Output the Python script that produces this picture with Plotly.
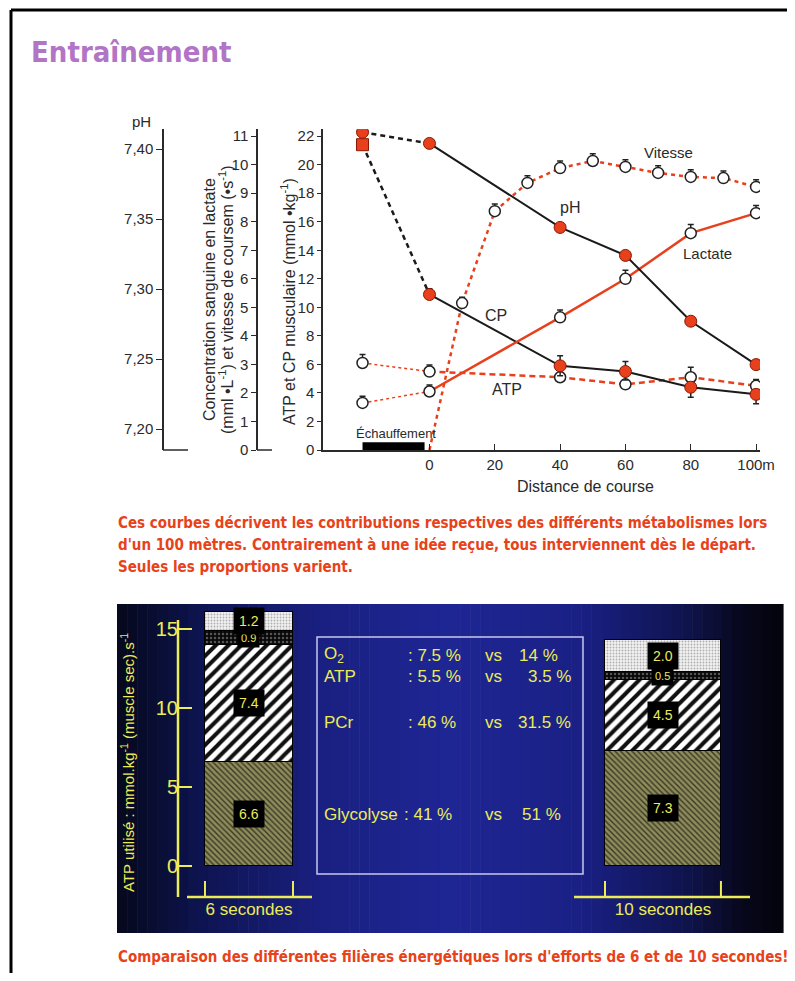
import plotly.graph_objects as go

# The page body adds an 8px margin on every side: size the figure so the page fits the window exactly
OFF = 8
W, H = 795 - 2 * OFF, 981 - 2 * OFF
def px(x): return (x - OFF) / W
def py(y): return 1 - (y - OFF) / H

# ---------------- Top chart data ----------------
dist = [-20.5, 0, 40, 60, 80, 100]
ph_vals = [7.412, 7.404, 7.344, 7.324, 7.277, 7.246]
ph_err = [0.005, 0, 0, 0, 0, 0]
cp_vals = [21.4, 10.9, 5.9, 5.5, 4.4, 3.9]
cp_err_up = [0, 0.4, 0.7, 0.7, 0.3, 0]
cp_err_dn = [0, 0, 0.7, 0.6, 0.7, 0.65]
atp_vals = [6.1, 5.5, 5.1, 4.6, 5.1, 4.5]
atp_err = [0.6, 0.45, 0.3, 0, 0.7, 0.45]
lac_vals = [1.65, 2.05, 4.65, 6.0, 7.6, 8.3]
lac_err = [0.23, 0.23, 0.26, 0.3, 0.3, 0.27]
speed_dist = [0, 10, 20, 30, 40, 50, 60, 70, 80, 90, 100]
speed_vals = [0, 5.15, 8.37, 9.36, 9.88, 10.13, 9.92, 9.71, 9.57, 9.53, 9.22]
speed_err = [0, 0.2, 0.25, 0.25, 0.25, 0.25, 0.25, 0.25, 0.25, 0.25, 0.25]
warmup = [-20.5, -1.5]

x_ticks = [0, 20, 40, 60, 80, 100]
x_ticktext = ["0", "20", "40", "60", "80", "100m"]
atp_ticks = list(range(0, 23, 2))
lac_ticks = list(range(0, 12))
ph_ticks = [7.20, 7.25, 7.30, 7.35, 7.40]
ph_ticktext = ["7,20", "7,25", "7,30", "7,35", "7,40"]

# ---------------- Bottom chart data ----------------
durations = ["6 secondes", "10 secondes"]
dur_pos = [0, 1]
bar_widths = [0.2126, 0.28]
glyco = [6.6, 7.3]
pcr = [7.4, 4.5]
atp_used = [0.9, 0.5]
o2 = [1.2, 2.0]
bottom_ticks = [0, 5, 10, 15]

row_labels = ["O<sub>2</sub>", "ATP", "PCr", "Glycolyse"]
pct_6s = ["7.5 %", "5.5 %", "46 %", "41 %"]
pct_10s = ["14 %", "3.5 %", "31.5 %", "51 %"]

RED = "#e8401c"
DARKRED = "#8a1800"
INK = "#2a2a2a"
YEL = "#ecec58"
TFONT = "Liberation Sans"

fig = go.Figure()

# ---- top chart traces ----
fig.add_trace(go.Scatter(x=dist[:2], y=atp_vals[:2], mode="lines", yaxis="y",
                         line=dict(color=RED, width=1.5, dash="dot"), showlegend=False))
fig.add_trace(go.Scatter(x=dist[1:], y=atp_vals[1:], mode="lines", yaxis="y",
                         line=dict(color=RED, width=2.5, dash="6px,4px"), showlegend=False))
fig.add_trace(go.Scatter(x=dist[:2], y=lac_vals[:2], mode="lines", yaxis="y2",
                         line=dict(color=RED, width=1.5, dash="dot"), showlegend=False))
fig.add_trace(go.Scatter(x=dist[1:], y=lac_vals[1:], mode="lines", yaxis="y2",
                         line=dict(color=RED, width=2.5), showlegend=False))
fig.add_trace(go.Scatter(x=speed_dist, y=speed_vals, mode="lines", yaxis="y2",
                         line=dict(color=RED, width=2.5, dash="4px,4px"), showlegend=False))
fig.add_trace(go.Scatter(x=dist[:2], y=ph_vals[:2], mode="lines", yaxis="y3",
                         line=dict(color="#1a1a1a", width=2.5, dash="5px,4px"), showlegend=False))
fig.add_trace(go.Scatter(x=dist[1:], y=ph_vals[1:], mode="lines", yaxis="y3",
                         line=dict(color="#1a1a1a", width=2), showlegend=False))
fig.add_trace(go.Scatter(x=dist[:2], y=cp_vals[:2], mode="lines", yaxis="y",
                         line=dict(color="#1a1a1a", width=2.5, dash="5px,4px"), showlegend=False))
fig.add_trace(go.Scatter(x=dist[1:], y=cp_vals[1:], mode="lines", yaxis="y",
                         line=dict(color="#1a1a1a", width=2), showlegend=False))

open_marker = dict(symbol="circle", size=11, color="white", line=dict(color="#222", width=1.5))
err_style = dict(type="data", color="#222", thickness=1.5, width=3)

fig.add_trace(go.Scatter(x=dist, y=atp_vals, mode="markers", yaxis="y", marker=open_marker,
                         error_y=dict(array=atp_err, arrayminus=[0]*len(atp_err), **err_style),
                         showlegend=False))
fig.add_trace(go.Scatter(x=dist, y=lac_vals, mode="markers", yaxis="y2", marker=open_marker,
                         error_y=dict(array=lac_err, arrayminus=[0]*len(lac_err), **err_style),
                         showlegend=False))
fig.add_trace(go.Scatter(x=speed_dist[1:], y=speed_vals[1:], mode="markers", yaxis="y2",
                         marker=open_marker,
                         error_y=dict(array=speed_err[1:], arrayminus=[0]*(len(speed_err)-1), **err_style),
                         showlegend=False))
fig.add_trace(go.Scatter(x=dist, y=ph_vals, mode="markers", yaxis="y3",
                         marker=dict(symbol="circle", size=12, color=RED, line=dict(color=DARKRED, width=1)),
                         error_y=dict(array=ph_err, arrayminus=[0]*len(ph_err), **err_style),
                         showlegend=False))
fig.add_trace(go.Scatter(x=dist, y=cp_vals, mode="markers", yaxis="y",
                         marker=dict(symbol=["square"] + ["circle"]*5, size=12, color=RED,
                                     line=dict(color=DARKRED, width=1)),
                         error_y=dict(array=cp_err_up, arrayminus=cp_err_dn, **err_style),
                         showlegend=False))

# ---- bottom chart bars ----
def pat(shape, bg, fg, size, sol):
    return dict(shape=shape, bgcolor=bg, fgcolor=fg, size=size, solidity=sol, fillmode="replace")

layers = [
    ("Glycolyse", glyco, pat("\\", "#8e8c5c", "#3a3822", 4, 0.35)),
    ("PCr", pcr, pat("/", "#ffffff", "#111111", 9, 0.45)),
    ("ATP", atp_used, pat(".", "#080808", "#555555", 4, 0.3)),
    ("O2", o2, pat(".", "#f2f2f2", "#b0b0b0", 3, 0.3)),
]
for name, vals, p in layers:
    fig.add_trace(go.Bar(x=dur_pos, y=vals, width=bar_widths, name=name, xaxis="x2", yaxis="y4",
                         marker=dict(color=p["bgcolor"], pattern=p, line=dict(color="#000", width=1)),
                         showlegend=False))

# ---------------- shapes ----------------
shapes = []
shapes.append(dict(type="line", xref="paper", yref="paper", x0=px(11), x1=px(800), y0=py(10), y1=py(10),
                   line=dict(color="black", width=3)))
shapes.append(dict(type="line", xref="paper", yref="paper", x0=px(11), x1=px(11), y0=py(10), y1=py(990),
                   line=dict(color="black", width=3)))

stops = [(117, (6, 8, 28)), (200, (14, 20, 80)), (320, (26, 32, 128)), (450, (30, 38, 148)),
         (580, (26, 32, 132)), (680, (16, 20, 82)), (740, (8, 8, 30)), (783, (4, 4, 10))]
def grad(x):
    for (xa, ca), (xb, cb) in zip(stops[:-1], stops[1:]):
        if xa <= x <= xb:
            t = (x - xa) / (xb - xa)
            return "rgb(%d,%d,%d)" % tuple(round(a + (b - a) * t) for a, b in zip(ca, cb))
    return "rgb(4,4,10)"
nstrip = 66
x0p, x1p = 117, 783
step = (x1p - x0p) / nstrip
for i in range(nstrip):
    xa = x0p + i * step
    shapes.append(dict(type="rect", xref="paper", yref="paper", layer="below",
                       x0=px(xa), x1=px(xa + step + 0.6), y0=py(933), y1=py(604),
                       fillcolor=grad(xa + step / 2), line=dict(width=0)))

shapes.append(dict(type="line", xref="paper", yref="paper", x0=px(163), x1=px(188), y0=py(450), y1=py(450),
                   line=dict(color=INK, width=1.5)))
shapes.append(dict(type="line", xref="paper", yref="paper", x0=px(257), x1=px(272), y0=py(450), y1=py(450),
                   line=dict(color=INK, width=1.5)))
shapes.append(dict(type="rect", xref="x", yref="y", x0=warmup[0], x1=warmup[1], y0=0, y1=0.55,
                   fillcolor="black", line=dict(width=0)))

shapes.append(dict(type="line", xref="paper", yref="paper", x0=px(178), x1=px(178), y0=py(897), y1=py(620),
                   line=dict(color=YEL, width=2.5)))
shapes.append(dict(type="line", xref="paper", yref="paper", x0=px(187), x1=px(312), y0=py(897), y1=py(897),
                   line=dict(color=YEL, width=2.5)))
shapes.append(dict(type="line", xref="paper", yref="paper", x0=px(574), x1=px(750), y0=py(897), y1=py(897),
                   line=dict(color=YEL, width=2.5)))
for pos, w in zip(dur_pos, bar_widths):
    for edge in (pos - w / 2, pos + w / 2):
        shapes.append(dict(type="line", xref="x2", yref="paper", x0=edge, x1=edge, y0=py(897), y1=py(881),
                           line=dict(color=YEL, width=2)))
shapes.append(dict(type="rect", xref="paper", yref="paper", x0=px(317), x1=px(583), y0=py(874), y1=py(637),
                   line=dict(color="#c8c8ec", width=1.5)))

# ---------------- annotations ----------------
ann = []
def A(text, x, y, size=15, color=INK, family=TFONT, xanchor="center", yanchor="middle", angle=0, **kw):
    d = dict(text=text, x=px(x), y=py(y), xref="paper", yref="paper", showarrow=False,
             font=dict(size=size, color=color, family=family), xanchor=xanchor, yanchor=yanchor,
             textangle=angle)
    d.update(kw)
    ann.append(d)

A("<b>Entraînement</b>", 29, 52, size=29, color="#b274c6", family="DejaVu Sans Condensed", xanchor="left")

A("pH", 141, 121, size=15)
A("Concentration sanguine en lactate", 209, 300, size=16, angle=-90)
A("(mml •L<sup>-1</sup>) et vitesse de coursem (•s<sup>-1</sup>)", 226, 300, size=16, angle=-90)
A("ATP et CP musculaire (mmol •kg<sup>-1</sup>)", 288, 302, size=16, angle=-90)
A("Vitesse", 668, 153, size=15)
A("pH", 570, 208, size=16)
A("Lactate", 707, 253, size=15)
A("CP", 496, 315, size=16)
A("ATP", 507, 389, size=16)
A("Échauffement", 396, 433, size=13)
A("Distance de course", 585, 486, size=16)

RT = "#e8421a"
para = ["Ces courbes décrivent les contributions respectives des différents métabolismes lors",
        "d'un 100 mètres. Contrairement à une idée reçue, tous interviennent dès le départ.",
        "Seules les proportions varient."]
for i, line in enumerate(para):
    A("<b>" + line + "</b>", 116, 523 + 22 * i, size=15, color=RT, family="DejaVu Sans Condensed", xanchor="left")
A("<b>Comparaison des différentes filières énergétiques lors d'efforts de 6 et de 10 secondes!</b>",
  116, 957, size=15, color=RT, family="DejaVu Sans Condensed", xanchor="left")

A("ATP utilisé : mmol.kg<sup>-1</sup> (muscle sec).s<sup>-1</sup>", 127, 762, size=15, color=YEL, angle=-90)

base = [0.0, 0.0]
for name, vals, p in layers:
    for j, v in enumerate(vals):
        mid = base[j] + v / 2
        small = v < 1
        ann.append(dict(text="%.1f" % v, x=dur_pos[j], y=mid, xref="x2", yref="y4", showarrow=False,
                        font=dict(size=11 if small else 14, color=YEL, family=TFONT),
                        bgcolor="black", borderpad=3 if small else 5))
        base[j] += v

row_y = [655, 676, 722, 814]
second_anchor = ["left", "right", "right", "left"]
second_x = [517, 573, 573, 520]
first_x = [406, 406, 406, 402]
for i in range(4):
    A(row_labels[i], 322, row_y[i], size=17, color=YEL, xanchor="left")
    A(": " + pct_6s[i], first_x[i], row_y[i], size=17, color=YEL, xanchor="left")
    A("vs", 483, row_y[i], size=17, color=YEL, xanchor="left")
    A(pct_10s[i], second_x[i], row_y[i], size=17, color=YEL, xanchor=second_anchor[i])

common = dict(showgrid=False, zeroline=False, automargin=False)
fig.update_layout(
    width=W, height=H, margin=dict(l=0, r=0, t=0, b=0, autoexpand=False),
    paper_bgcolor="white", plot_bgcolor="rgba(0,0,0,0)",
    barmode="stack", bargap=0, showlegend=False,
    font=dict(family=TFONT, color=INK),
    xaxis=dict(domain=[px(323), px(760)], range=[-32.6, 101.2], anchor="y",
               showline=True, linecolor=INK, linewidth=1.5,
               ticks="inside", ticklen=6, tickcolor=INK, tickvals=x_ticks, ticktext=x_ticktext,
               tickfont=dict(size=15, color=INK), **common),
    yaxis=dict(domain=[py(450), py(129)], range=[0, 22.5], anchor="x",
               showline=True, linecolor=INK, linewidth=1.5,
               ticks="outside", ticklen=4, tickcolor=INK, tickvals=atp_ticks,
               tickfont=dict(size=15, color=INK), **common),
    yaxis2=dict(overlaying="y", anchor="free", position=px(257), range=[0, 11.25],
                showline=True, linecolor=INK, linewidth=1.5,
                ticks="outside", ticklen=5, tickcolor=INK, tickvals=lac_ticks,
                tickfont=dict(size=15, color=INK), **common),
    yaxis3=dict(overlaying="y", anchor="free", position=px(163), range=[7.185, 7.4143],
                showline=True, linecolor=INK, linewidth=1.5,
                ticks="outside", ticklen=6, tickcolor=INK, tickvals=ph_ticks, ticktext=ph_ticktext,
                tickfont=dict(size=15, color=INK), **common),
    xaxis2=dict(domain=[px(117), px(783)], range=[-0.3188, 1.2899], anchor="y4",
                showline=False, ticks="",
                tickvals=dur_pos, ticktext=durations, tickfont=dict(size=17, color=YEL), **common),
    yaxis4=dict(domain=[py(897), py(604)], range=[-1.96, 16.58], anchor="free", position=px(178),
                showline=False,
                ticks="inside", ticklen=13, tickwidth=2, tickcolor=YEL, tickvals=bottom_ticks,
                tickfont=dict(size=20, color=YEL), **common),
    shapes=shapes, annotations=ann,
)

fig.write_html("out.html")
